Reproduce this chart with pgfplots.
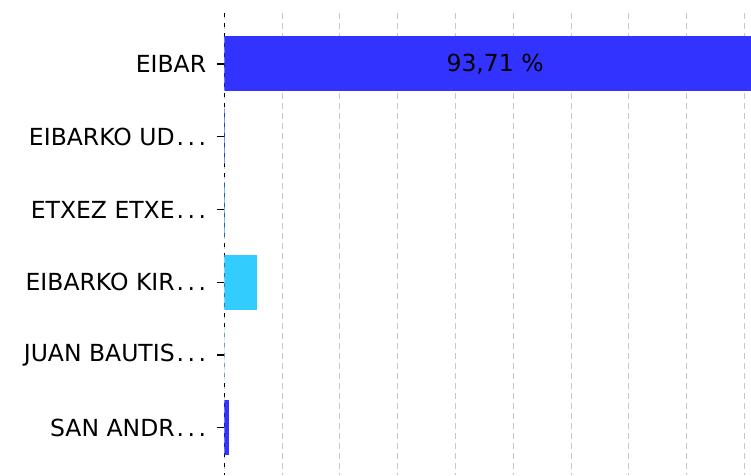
\documentclass[border=0pt]{standalone}
\usepackage{fontspec}
\setmainfont{DejaVu Sans}
\usepackage{pgfplots}
\pgfplotsset{compat=1.18}
\newcommand{\dd}{\kern2pt.\kern3.5pt.\kern3.5pt.}
\definecolor{cA}{HTML}{3333FF}
\definecolor{cB}{HTML}{3366FF}
\definecolor{cC}{HTML}{3399FF}
\definecolor{cD}{HTML}{33CCFF}
\definecolor{cE}{HTML}{BBF2FF}
\definecolor{cF}{HTML}{3333FF}
\begin{document}
\begin{tikzpicture}
\useasboundingbox (0,0) rectangle (751pt,475pt);
\clip (0,0) rectangle (751pt,475pt);
\begin{axis}[
 at={(224.3pt,0pt)}, anchor=south west, scale only axis,
 width=526.7pt, height=462pt,
 xmin=0, xmax=91.12, ymin=-0.70, ymax=5.65, y dir=reverse,
 axis y line*=left, axis x line*=bottom,
 x axis line style={draw=none},
 y axis line style={black, line width=1.2pt, dash pattern=on 4pt off 6pt, -},
 xtick={0,10,...,90}, xticklabels={}, xtick style={draw=none},
 xmajorgrids, major x grid style={black!22, line width=1pt, dash pattern=on 6pt off 4pt},
 ytick={0,1,2,3,4,5},
 yticklabels={EIBAR, {EIBARKO UD\dd}, {ETXEZ ETXE\dd}, {EIBARKO KIR\dd}, {JUAN BAUTIS\dd}, {SAN ANDR\dd}},
 ytick style={black, line width=1.2pt}, major tick length=7pt, tick align=outside,
 yticklabel style={font=\fontsize{23.5}{28}\selectfont, inner sep=0pt, xshift=-11pt},
]
\addplot[xbar, bar width=55pt, bar shift=0pt, fill=cA, draw=none] coordinates {(93.71,0)};
\addplot[xbar, bar width=55pt, bar shift=0pt, fill=cB, draw=none] coordinates {(0.18,1)};
\addplot[xbar, bar width=55pt, bar shift=0pt, fill=cC, draw=none] coordinates {(0.18,2)};
\addplot[xbar, bar width=55pt, bar shift=0pt, fill=cD, draw=none] coordinates {(5.62,3)};
\addplot[xbar, bar width=55pt, bar shift=0pt, fill=cE, draw=none] coordinates {(0.12,4)};
\addplot[xbar, bar width=55pt, bar shift=0pt, fill=cF, draw=none] coordinates {(0.82,5)};
\addplot[draw=none, mark=none, nodes near coords={93,71 \%},
  every node near coord/.style={font=\fontsize{23.5}{28}\selectfont, anchor=center, black}]
  coordinates {(46.855,0)};
\end{axis}
\end{tikzpicture}
\end{document}
